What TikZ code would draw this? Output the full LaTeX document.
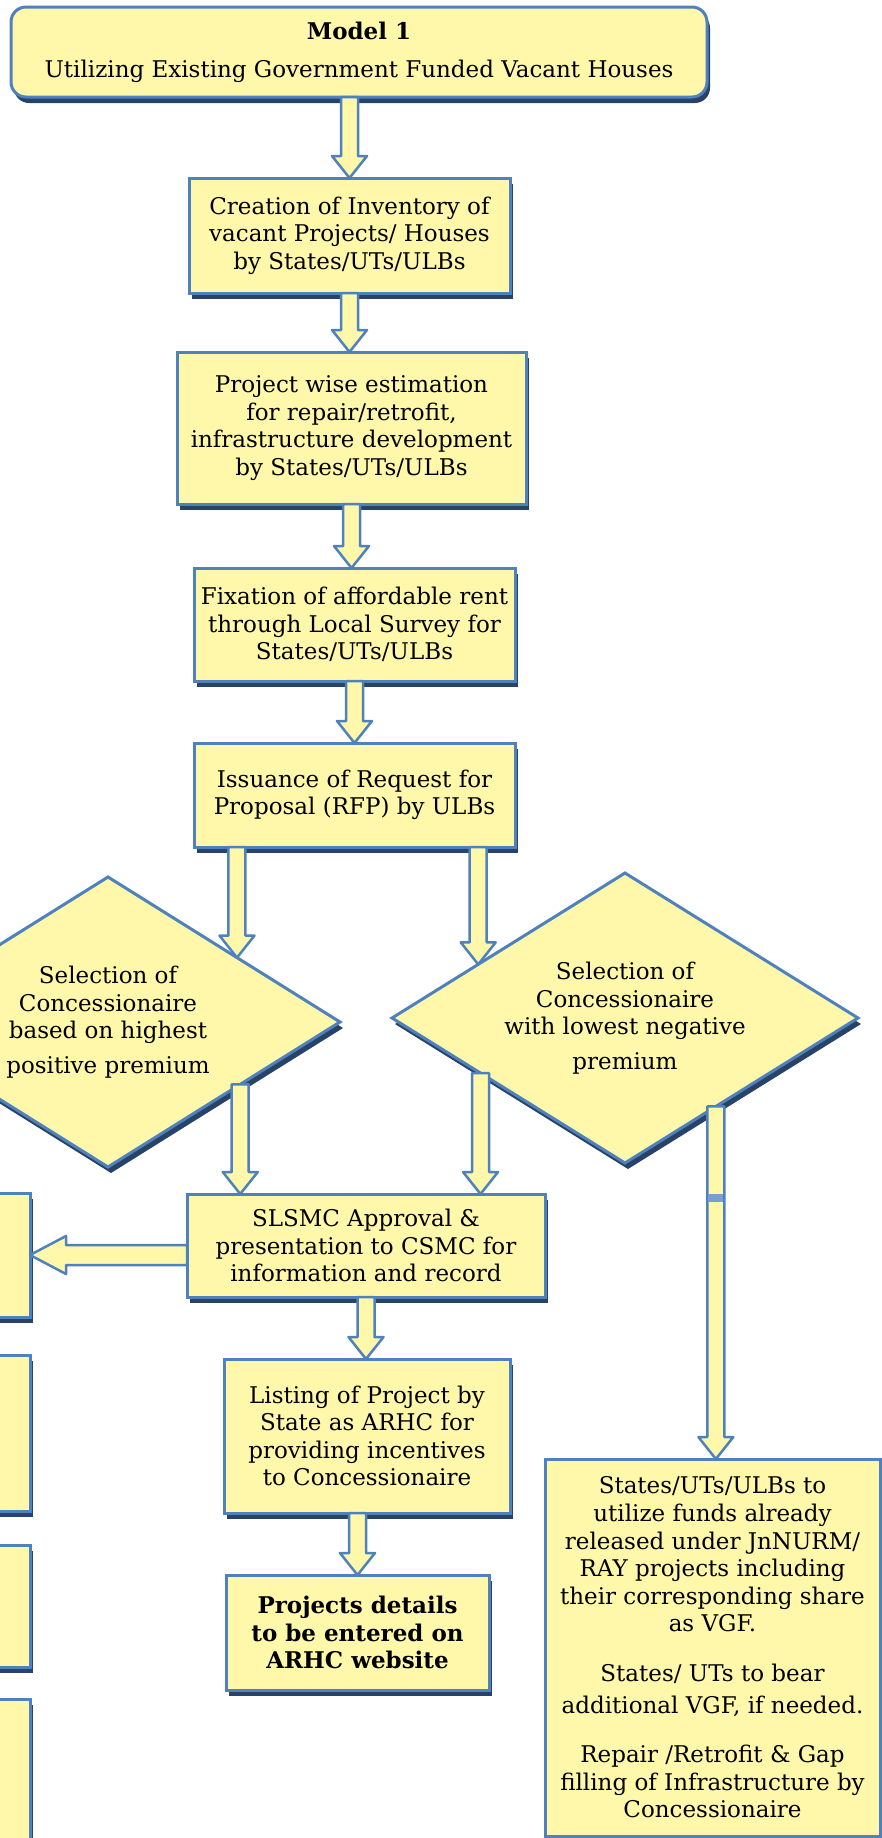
\documentclass[tikz,border=0pt]{standalone}
\usepackage{fontspec}
\setmainfont{DejaVu Serif}
\usetikzlibrary{shapes.geometric,shadows,calc}

\definecolor{boxyellow}{RGB}{255,247,170}
\definecolor{boxblue}{RGB}{79,129,189}
\definecolor{shadownavy}{RGB}{40,66,104}
\definecolor{seamblue}{RGB}{122,158,209}

\tikzset{
    stepbox/.style={
        draw=boxblue, fill=boxyellow, line width=1.5pt, inner sep=0pt, outer sep=0pt,
        align=center, font=\fontsize{11.5pt}{13.8pt}\selectfont,
        drop shadow={shadow xshift=1.5pt, shadow yshift=-3pt, fill=shadownavy, opacity=1}
    },
    choice/.style={stepbox, diamond, aspect=1.6},
    fatdown/.style={
        draw=boxblue, fill=boxyellow, line width=1.25pt, line join=round,
        to path={let \p1=(\tikztostart), \p2=(\tikztotarget) in
            (\x1-4.25pt,\y1) -- (\x1-4.25pt,\y2+11pt) -- (\x1-8.75pt,\y2+11pt) -- (\x1,\y2)
            -- (\x1+8.75pt,\y2+11pt) -- (\x1+4.25pt,\y2+11pt) -- (\x1+4.25pt,\y1) -- cycle}
    },
    fatleft/.style={
        draw=boxblue, fill=boxyellow, line width=1.25pt, line join=round,
        to path={let \p1=(\tikztostart), \p2=(\tikztotarget) in
            (\x1,\y1+5pt) -- (\x2+18pt,\y1+5pt) -- (\x2+18pt,\y1+9.5pt) -- (\x2,\y1)
            -- (\x2+18pt,\y1-9.5pt) -- (\x2+18pt,\y1-5pt) -- (\x1,\y1-5pt) -- cycle}
    }
}

\begin{document}
\begin{tikzpicture}[x=0.5pt,y=-0.5pt]
                      \path[use as bounding box] (0,0) rectangle (882,1838);
                      \clip (0,0) rectangle (882,1838);

                      \node[stepbox, rounded corners=7.5pt, minimum width=348pt, minimum height=45pt] (top) at (359,52)
                          {\textbf{Model 1}\\[5.2pt]Utilizing Existing Government Funded Vacant Houses};
                      \node[stepbox, minimum width=160.5pt, minimum height=57.5pt] (invent) at (349.5,235.5)
                          {Creation of Inventory of\\vacant Projects/ Houses\\by States/UTs/ULBs};
                      \node[stepbox, minimum width=174.5pt, minimum height=76pt] (estim) at (351.5,428)
                          {Project wise estimation\\for repair/retrofit,\\infrastructure development\\by States/UTs/ULBs};
                      \node[stepbox, minimum width=160.5pt, minimum height=56.5pt] (rent) at (354.5,624.5)
                          {Fixation of affordable rent\\through Local Survey for\\States/UTs/ULBs};
                      \node[stepbox, minimum width=160.5pt, minimum height=52pt] (rfp) at (354.5,795)
                          {Issuance of Request for\\Proposal (RFP) by ULBs};

                      \node[choice, minimum width=232pt, minimum height=145pt] (dsel1) at (108,1022)
                          {Selection of\\Concessionaire\\based on highest\\[3.5pt]positive premium};
                      \node[choice, minimum width=233pt, minimum height=145pt] (dsel2) at (625,1018)
                          {Selection of\\Concessionaire\\with lowest negative\\[3.5pt]premium};

                      \node[stepbox, minimum width=179pt, minimum height=51.5pt] (slsmc) at (366,1245.5)
                          {SLSMC Approval \&\\presentation to CSMC for\\information and record};
                      \node[stepbox, minimum width=143pt, minimum height=77pt] (listing) at (367,1436)
                          {Listing of Project by\\State as ARHC for\\providing incentives\\to Concessionaire};
                      \node[stepbox, minimum width=131.5pt, minimum height=57.5pt] (website) at (357.5,1632.5)
                          {\textbf{Projects details}\\\textbf{to be entered on}\\\textbf{ARHC website}};
                      \node[stepbox, minimum width=167.5pt, minimum height=188.5pt] (vgf) at (712.5,1647.5)
                          {States/UTs/ULBs to\\utilize funds already\\released under JnNURM/\\RAY projects including\\their corresponding share\\as VGF.\\[11pt]States/ UTs to bear\\[2pt]additional VGF, if needed.\\[11pt]Repair /Retrofit \& Gap\\filling of Infrastructure by\\Concessionaire};

                      \node[stepbox, minimum width=100pt, minimum height=62pt] (lb1) at (-70,1255) {};
                      \node[stepbox, minimum width=100pt, minimum height=78pt] (lb2) at (-70,1433) {};
                      \node[stepbox, minimum width=100pt, minimum height=61pt] (lb3) at (-70,1606) {};
                      \node[stepbox, minimum width=100pt, minimum height=125.5pt] (lb4) at (-70,1824.5) {};

                      \coordinate (t1) at ($(dsel1.north)!0.556!(dsel1.east)$);
                      \coordinate (t2) at ($(dsel2.north)!0.63!(dsel2.west)$);
                      \coordinate (s1) at ($(dsel1.east)!0.43!(dsel1.south)$);
                      \coordinate (s2) at ($(dsel2.west)!0.38!(dsel2.south)$);
                      \coordinate (s3) at ($(dsel2.east)!0.61!(dsel2.south)$);

                      \draw[fatdown] (top.south -| invent.north) to (invent.north);
                      \draw[fatdown] (invent.south) to (estim.north);
                      \draw[fatdown] (estim.south) to (rent.north);
                      \draw[fatdown] (rent.south) to (rfp.north);
                      \draw[fatdown] (rfp.south -| t1) to (t1);
                      \draw[fatdown] (rfp.south -| t2) to (t2);

                      \draw[fatdown] (s1) to (s1 |- slsmc.north);
                      \draw[fatdown] (s2) to (s2 |- slsmc.north);
                      \draw[fatleft] (lb1.east -| slsmc.west) to (lb1.east);
                      \draw[fatdown] (slsmc.south) to (listing.north);
                      \draw[fatdown] (listing.south -| website.north) to (website.north);

                      \draw[fatdown] (s3) to (s3 |- vgf.north);
                      \fill[seamblue] ($(s3)+(-7.5,88)$) rectangle ($(s3)+(7.5,96)$);

                  \end{tikzpicture}
\end{document}
